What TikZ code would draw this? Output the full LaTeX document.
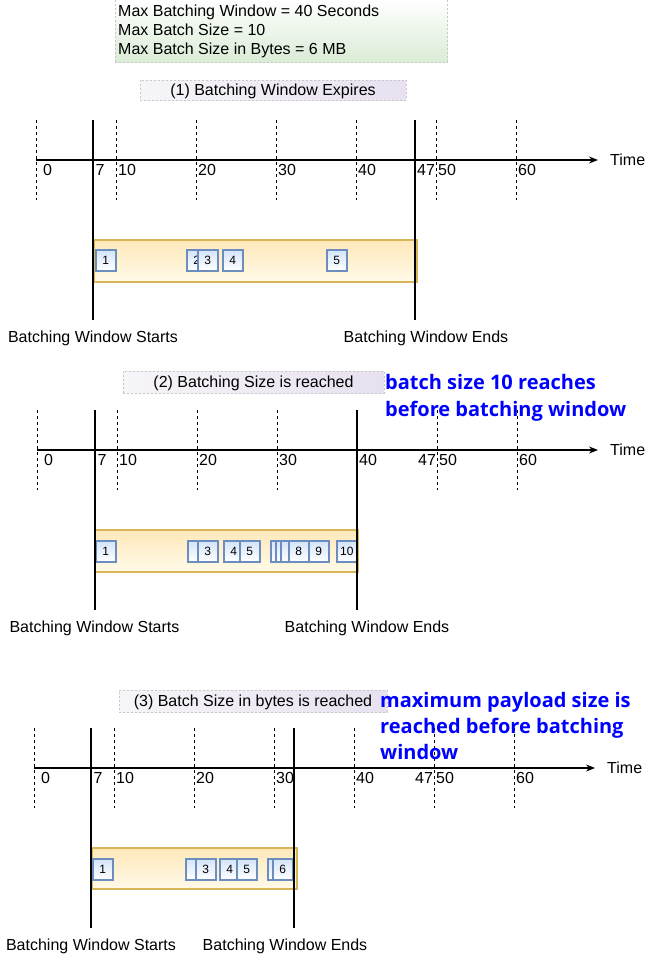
\documentclass[tikz,border=0pt]{standalone}
\usepackage{fontspec}
\setmainfont{Liberation Sans}
\newfontfamily\notofont{Open Sans}
\usetikzlibrary{arrows.meta}
\definecolor{itemline}{RGB}{108,142,191}
\definecolor{itemfill}{RGB}{212,228,250}
\definecolor{bandline}{RGB}{214,182,86}
\definecolor{bandtop}{RGB}{255,232,185}
\definecolor{bandbot}{RGB}{255,250,232}
\definecolor{cfgfill}{RGB}{218,236,214}
\definecolor{titlefill}{RGB}{232,225,240}
\definecolor{titleleft}{RGB}{246,245,248}
\definecolor{frameline}{RGB}{200,200,200}
\definecolor{noteblue}{RGB}{0,0,255}

\newcommand\tlpanel[6]{%
 \foreach \k in {1,...,6}{%
   \pgfmathtruncatemacro\tv{10*\k}%
   \coordinate (#1dt\k) at ({#3+80*\k},{#2-40});
   \coordinate (#1db\k) at ({#3+80*\k},{#2+40});
   \draw[dashln] (#1dt\k) -- (#1db\k);
   \node[ticklbl] (#1l\k) at ({#3+80*\k+2},{#2+15.7}) {\tv};
 }
 \coordinate (#1dt0) at (#3,{#2-40});
 \coordinate (#1db0) at (#3,{#2+40});
 \draw[dashln] (#1dt0) -- (#1db0);
 \node[ticklbl] (#1l0) at ({#3+7},{#2+15.7}) {0};
 \node[ticklbl] (#1l7) at ({#4+2.5},{#2+15.7}) {7};
 \node[ticklbl] (#1l47) at ({#3+381},{#2+15.7}) {47};
 \coordinate (#1as) at (#3,#2);
 \coordinate (#1ae) at (#6,#2);
 \draw[axisln] (#1as) -- (#1ae);
 \node[ticklbl, anchor=west] (#1time) at ({#6+12},#2) {Time};
}
\newcommand\tlsolid[4]{%
 \coordinate (#1sat) at (#3,{#2-40});
 \coordinate (#1sab) at (#3,{#2+160});
 \coordinate (#1sbt) at (#4,{#2-40});
 \coordinate (#1sbb) at (#4,{#2+160});
 \draw[solidln] (#1sat) -- (#1sab);
 \draw[solidln] (#1sbt) -- (#1sbb);
}

\begin{document}
\begin{tikzpicture}[x=1pt,y=-1pt,
  dashln/.style={line width=0.8pt, dash pattern=on 3pt off 3pt},
  axisln/.style={line width=1.2pt, -{Stealth[length=9pt,width=7pt]}},
  solidln/.style={line width=1.2pt},
  ticklbl/.style={font=\fontsize{16}{19}\selectfont, inner sep=0pt, anchor=base west},
  botlbl/.style={font=\fontsize{16}{19}\selectfont, inner sep=0pt, anchor=base},
  item/.style={draw=itemline, line width=1.5pt, top color=itemfill, bottom color=white,
    minimum width=20pt, minimum height=21pt, inner sep=0pt, anchor=north west,
    font=\fontsize{12}{14}\selectfont},
  band/.style={draw=bandline, line width=1.5pt, top color=bandtop, bottom color=bandbot,
    anchor=north west, inner sep=0pt},
  titlebox/.style={draw=frameline, dash pattern=on 2pt off 2pt, line width=0.6pt,
    left color=titleleft, right color=titlefill, inner sep=0pt,
    text height=11.5pt, text depth=0.5pt,
    font=\fontsize{16}{19}\selectfont},
  cfgbox/.style={draw=frameline, dash pattern=on 2pt off 2pt, line width=0.6pt,
    top color=white, bottom color=cfgfill, inner sep=0pt, anchor=north west},
  note/.style={font=\notofont\bfseries\fontsize{20}{26}\selectfont, text=noteblue,
    inner sep=0pt, anchor=base west}]
\useasboundingbox (0,0) rectangle (648,956);

% configuration box
\node[cfgbox, minimum width=332pt, minimum height=63pt] (cfg) at (115,-1) {};
\node[ticklbl] (cfg1) at (118,16.5) {Max Batching Window = 40 Seconds};
\node[ticklbl] (cfg2) at (118,35.5) {Max Batch Size = 10};
\node[ticklbl] (cfg3) at (118,54.5) {Max Batch Size in Bytes = 6 MB};

% ---------------- panel 1
\node[titlebox, minimum width=266pt, minimum height=20pt] (t1) at (273,90) {(1) Batching Window Expires};
\tlpanel{pa}{160}{36}{93}{415}{598}
\node[band, minimum width=323pt, minimum height=42pt] (pab) at (93,239) {};
\node[item] (pai1) at (95,249) {1};
\node[item] (pai2) at (186,249) {2};
\node[item] (pai3) at (197,249) {3};
\node[item] (pai4) at (222,249) {4};
\node[item] (pai5) at (326,249) {5};
\tlsolid{pa}{160}{93}{415}
\node[botlbl] (pas) at (93,342.7) {Batching Window Starts};
\node[botlbl] (pae) at (426,342.7) {Batching Window Ends};

% ---------------- panel 2
\node[titlebox, minimum width=261pt, minimum height=22pt] (t2) at (253.5,382) {(2) Batching Size is reached};
\tlpanel{pb}{450}{37}{95}{357}{598}
\node[band, minimum width=263pt, minimum height=42pt] (pbb) at (94,529) {};
\node[item] (pbi1) at (95,540) {1};
\node[item] (pbi2) at (187,540) {};
\node[item] (pbi3) at (197,540) {3};
\node[item] (pbi4) at (223,540) {4};
\node[item] (pbi5) at (239,540) {5};
\node[item] (pbi6) at (270,540) {};
\node[item] (pbi7) at (275,540) {};
\node[item] (pbi7b) at (280,540) {};
\node[item] (pbi8) at (288,540) {8};
\node[item] (pbi9) at (308,540) {9};
\node[item] (pbi10) at (336,540) {10};
\tlsolid{pb}{450}{95}{357}
\node[botlbl] (pbs) at (94.5,632.7) {Batching Window Starts};
\node[botlbl] (pbe) at (367,632.7) {Batching Window Ends};
\node[note] (nb1) at (385,389) {batch size 10 reaches};
\node[note] (nb2) at (385,416) {before batching window};

% ---------------- panel 3
\node[titlebox, minimum width=268pt, minimum height=22pt] (t3) at (253,701) {(3) Batch Size in bytes is reached};
\tlpanel{pc}{768}{34}{91}{294}{595}
\node[band, minimum width=205pt, minimum height=41pt] (pcb) at (91,847) {};
\node[item] (pci1) at (92,858) {1};
\node[item] (pci2) at (185,858) {};
\node[item] (pci3) at (195,858) {3};
\node[item] (pci4) at (219,858) {4};
\node[item] (pci5) at (236,858) {5};
\node[item] (pci5b) at (267,858) {};
\node[item] (pci6) at (272,858) {6};
\tlsolid{pc}{768}{91}{294}
\node[botlbl] (pcs) at (91,950.7) {Batching Window Starts};
\node[botlbl] (pce) at (285,950.7) {Batching Window Ends};
\node[note] (nc1) at (380,707) {maximum payload size is};
\node[note] (nc2) at (380,733) {reached before batching};
\node[note] (nc3) at (380,759) {window};
\end{tikzpicture}
\end{document}
